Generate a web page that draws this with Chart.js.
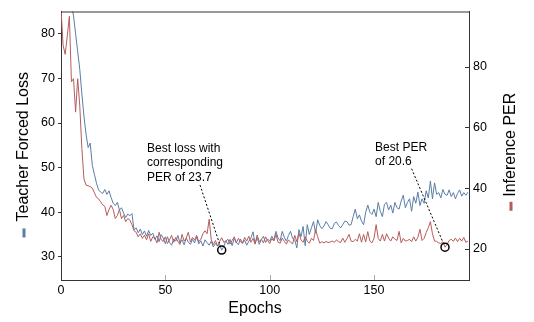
<!DOCTYPE html>
<html>
<head>
<meta charset="utf-8">
<script src="https://cdn.jsdelivr.net/npm/chart.js@4.4.1/dist/chart.umd.min.js"></script>
<style>
  html, body { margin: 0; padding: 0; background: #fff; }
  #chart { display: block; }
</style>
</head>
<body>
<canvas id="chart" width="534" height="322"></canvas>
<script>
// epochs 0..195
const epochs = Array.from({ length: 196 }, (_, i) => i);

const teacherForcedLoss = [
  120, 108, 99, 93, 89, 86.5, 84, 80, 76, 72,
  66.5, 61.5, 57.5, 54.5, 55.5, 50.5, 48.5, 46.5, 45, 44.5,
  44.2, 45.1, 44, 44.8, 43.3, 42, 41.5, 42.2, 40.5, 41,
  39.8, 38.8, 39.6, 39.2, 39.7, 36, 36.5, 35.4, 36.2, 35,
  35.8, 34.6, 35.9, 34.8, 35.3, 33.9, 34.7, 33.4, 35, 34.2,
  32.9, 34.5, 33.2, 32.6, 34, 33.5, 34.8, 33.1, 33.8, 32.7,
  34.2, 33.3, 32.8, 33.9, 33.1, 34.5, 32.9, 33.6, 32.4, 33.8,
  33.2, 32.6, 33.5, 32.2, 33.0, 32.4, 32.8, 31.5, 32.3, 33.6,
  32.8, 33.9, 32.5, 34.1, 33.2, 32.7, 34.0, 33.1, 33.7, 32.6,
  33.5, 34.2, 35.6, 33.0, 34.3, 32.8, 33.9, 34.6, 33.2, 34.0,
  33.5, 34.6, 33.8, 35.7, 34.2, 33.6, 35.7, 34.4, 33.5, 34.8,
  35.7, 34.1, 33.8, 32.0, 36.1, 34.5, 36.8, 32.5, 37.2, 35.0,
  36.5, 37.9, 35.3, 38.3, 37.0, 36.3, 36.9, 37.9, 37.2, 36.4,
  36.3, 37.5, 37.8, 37.0, 36.5, 37.2, 38.0, 37.9, 37.1, 37.2,
  39.0, 40.7, 38.5, 39.4, 38.0, 37.2, 40.0, 41.6, 40.0, 39.5,
  40.7, 39.0, 42.2, 40.2, 39.0, 41.8, 42.2, 40.5, 41.6, 39.8,
  42.2, 41.0, 40.7, 42.5, 43.8, 41.0, 42.2, 43.0, 40.2, 43.5,
  42.0, 44.5, 41.5, 43.0, 42.0, 44.8, 43.2, 47.0, 43.0, 46.6,
  44.0, 44.4, 43.2, 45.1, 44.0, 43.8, 45.0, 43.5, 44.4, 43.0,
  44.2, 45.0, 43.6, 44.4, 43.8, 44.5
];

const inferencePer = [
  99, 87, 84, 90, 96.5, 75, 76, 65, 76, 67,
  53, 43, 41, 40.8, 40.5, 40, 38.5, 37, 36.5, 35.5,
  34.5, 34, 31, 33, 34.4, 33, 30, 31, 33, 30,
  31, 29, 30, 29.5, 28, 26, 25.5, 24, 25, 23.5,
  24.5, 23, 25, 22.5, 24, 23.5, 22, 25.5, 23, 22.5,
  24, 21.8, 23, 24.5, 22.2, 23.8, 22.5, 21.5, 24.8, 22.6,
  23.5, 25.5, 22.3, 23.8, 22.9, 24.5, 22.4, 23.2, 25, 26,
  25, 29.8, 23, 21.5, 22.8, 21, 22.5, 23.7, 22.2, 22.6,
  23.2, 21.6, 22.8, 24, 22, 23.5, 22.4, 21.8, 23.8, 22.6,
  24.2, 22.2, 23.5, 21.6, 24.6, 22.4, 23.2, 22, 24, 22.8,
  21.8, 23.4, 22.6, 24.8, 22.2, 21.9, 23.6, 22.5, 21.6, 23,
  22.2, 21.7, 24.5, 22.4, 25.2, 23, 22.2, 24, 22.6, 21.9,
  23.5, 22.8, 26.4, 24, 21.9, 22.4, 22, 22.5, 22.1, 22.3,
  22.6, 22.2, 23, 22.4, 22.1, 23.6, 22.2, 23.4, 24.8, 22.6,
  22.4, 23.2, 22.6, 25, 22.2, 24.8, 22.3, 25.7, 22.6, 22.0,
  23.5, 28, 23.5, 22.6, 24.8, 22.6, 25, 23.5, 22.6, 24,
  23.2, 22.8, 25.8, 22, 23.5, 22.6, 22.8, 23.2, 22.4, 24,
  22.6, 23.8, 26.5, 22.8, 23.5, 25.4, 27, 29, 25, 22.6,
  22.5, 22.0, 21.8, 22.4, 20.6, 21.5, 22.8, 23.2, 22.5, 23.6,
  22.4, 23.5, 22.6, 23.8, 22.2, 22.6
];

const xTicks = [0, 50, 100, 150];
const lossTicks = [30, 40, 50, 60, 70, 80];
const perTicks = [20, 40, 60, 80];

const BLUE = '#5a7ea6';
const RED = '#b65c5c';
const FONT = "'Liberation Sans', Arial, sans-serif";

// callouts: which point, text and where the leader starts
const callouts = [
  { axis: 'y', series: teacherForcedLoss, epoch: 77,
    lines: ['Best loss with', 'corresponding', 'PER of 23.7'],
    textAt: [41.2, 54.3], from: [66.6, 46.1] },
  { axis: 'y1', series: inferencePer, epoch: 184,
    lines: ['Best PER', 'of 20.6'],
    textAt: [150.5, 53.4], from: [168, 46.4] }
];

const setTicks = (list) => (s) => { s.ticks = list.map(v => ({ value: v })); };

const decorations = {
  id: 'decorations',
  afterDatasetsDraw(chart) {
    const { ctx, chartArea: a, scales } = chart;
    ctx.save();
    // top edge of the box
    ctx.strokeStyle = '#333';
    ctx.lineWidth = 1;
    ctx.beginPath();
    ctx.moveTo(a.left, a.top + 0.5);
    ctx.lineTo(a.right, a.top + 0.5);
    ctx.stroke();

    // inward tick marks on bottom and right axes
    ctx.strokeStyle = '#aaa';
    xTicks.slice(1).forEach(v => {
      const px = Math.round(scales.x.getPixelForValue(v)) + 0.5;
      ctx.beginPath();
      ctx.moveTo(px, a.bottom);
      ctx.lineTo(px, a.bottom - 5);
      ctx.stroke();
    });
    ctx.strokeStyle = '#333';
    perTicks.forEach(v => {
      const py = Math.round(scales.y1.getPixelForValue(v)) + 0.5;
      ctx.beginPath();
      ctx.moveTo(a.right, py);
      ctx.lineTo(a.right - 4, py);
      ctx.stroke();
    });

    // callouts
    callouts.forEach(c => {
      const ys = scales[c.axis];
      const cx = scales.x.getPixelForValue(c.epoch);
      const cy = ys.getPixelForValue(c.series[c.epoch]);
      const r = 4;
      ctx.strokeStyle = '#000';
      ctx.lineWidth = 1.5;
      ctx.beginPath();
      ctx.arc(cx, cy, r, 0, Math.PI * 2);
      ctx.stroke();

      const sx = scales.x.getPixelForValue(c.from[0]);
      const sy = ys.getPixelForValue(c.from[1]);
      const d = Math.hypot(cx - sx, cy - sy);
      const ex = cx - (cx - sx) / d * (r + 3);
      const ey = cy - (cy - sy) / d * (r + 3);
      ctx.lineWidth = 1;
      ctx.setLineDash([2, 2]);
      ctx.beginPath();
      ctx.moveTo(sx, sy);
      ctx.lineTo(ex, ey);
      ctx.stroke();
      ctx.setLineDash([]);

      ctx.fillStyle = '#000';
      ctx.font = '12px ' + FONT;
      ctx.textAlign = 'left';
      ctx.textBaseline = 'middle';
      const tx = scales.x.getPixelForValue(c.textAt[0]);
      const ty = ys.getPixelForValue(c.textAt[1]);
      c.lines.forEach((t, i) => ctx.fillText(t, tx, ty + i * 14.5));
    });
    ctx.restore();
  },
  afterDraw(chart) {
    const { ctx, chartArea: a } = chart;
    const midY = (a.top + a.bottom) / 2;
    ctx.save();
    ctx.font = '16px ' + FONT;
    ctx.fillStyle = '#000';
    ctx.textAlign = 'center';
    ctx.textBaseline = 'middle';
    ctx.fillText('Epochs', 255, 309);

    const sideTitle = (text, x, y, color, gap) => {
      ctx.save();
      ctx.translate(x, y);
      ctx.rotate(-Math.PI / 2);
      ctx.fillStyle = '#000';
      ctx.fillText(text, 0, 0);
      const w = ctx.measureText(text).width;
      ctx.fillStyle = color;
      ctx.fillRect(-w / 2 - gap - 9, -1.5, 9, 3);
      ctx.restore();
    };
    sideTitle('Teacher Forced Loss', 24, midY + 1, BLUE, 7);
    sideTitle('Inference PER', 511, midY - 1, RED, 5);
    ctx.restore();
  }
};

new Chart(document.getElementById('chart').getContext('2d'), {
  type: 'line',
  data: {
    labels: epochs,
    datasets: [
      { label: 'Inference PER', data: inferencePer, yAxisID: 'y1',
        borderColor: RED, borderWidth: 1, pointRadius: 0, tension: 0, order: 0 },
      { label: 'Teacher Forced Loss', data: teacherForcedLoss, yAxisID: 'y',
        borderColor: BLUE, borderWidth: 1, pointRadius: 0, tension: 0, order: 1 }
    ]
  },
  options: {
    responsive: false,
    animation: false,
    layout: { padding: { top: 3, left: 0, right: 0, bottom: 0 } },
    plugins: { legend: { display: false }, tooltip: { enabled: false } },
    scales: {
      x: {
        type: 'linear', min: 0, max: 195.5,
        afterBuildTicks: setTicks(xTicks),
        afterFit: s => { s.height = 42; },
        grid: { display: false, drawTicks: false },
        border: { display: true, color: '#333', width: 1 },
        ticks: { color: '#000', padding: 3, maxRotation: 0, font: { family: FONT, size: 12.5 } }
      },
      y: {
        position: 'left', min: 24.8, max: 85,
        afterBuildTicks: setTicks(lossTicks),
        afterFit: s => { s.width = 61; },
        grid: { drawOnChartArea: false, drawTicks: true, tickLength: 3, color: '#333' },
        border: { display: true, color: '#333', width: 1 },
        ticks: { color: '#000', padding: 3, font: { family: FONT, size: 12.5 } }
      },
      y1: {
        position: 'right', min: 9.8, max: 98.1,
        afterBuildTicks: setTicks(perTicks),
        afterFit: s => { s.width = 65; },
        grid: { display: false, drawTicks: false },
        border: { display: true, color: '#333', width: 1 },
        ticks: { color: '#000', padding: 4, font: { family: FONT, size: 12.5 } }
      }
    }
  },
  plugins: [decorations]
});
</script>
</body>
</html>
